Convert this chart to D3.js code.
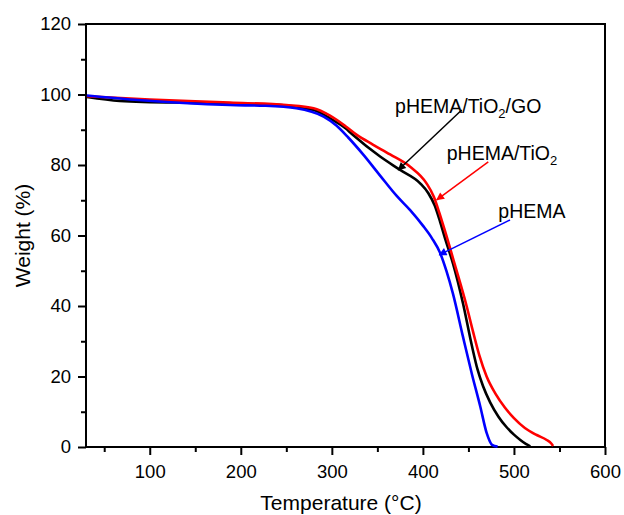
<!DOCTYPE html>
<meta charset="utf-8">
<style>
body { margin: 0; background: #fff; }
.axis text { font: 18.5px "Liberation Sans", Arial, sans-serif; fill: #000; }
.axis line { stroke: #000; stroke-width: 2px; }
.title { font: 21px "Liberation Sans", Arial, sans-serif; fill: #000; }
.note { font: 19.5px "Liberation Sans", Arial, sans-serif; fill: #000; }
</style>
<svg width="624" height="515"></svg>
<script src="https://d3js.org/d3.v7.min.js"></script>
<script>

// TGA curves (temperature in °C, weight in %)
var tempBlue = [31, 83, 188, 226, 261, 291, 305, 318, 335, 353, 371, 386, 400, 410, 419, 426, 433, 444, 454, 463, 470, 476, 482]
var wBlue    = [99.7, 98.5, 97.0, 96.8, 96.1, 93.7, 91.2, 87.8, 82.8, 77.0, 71.3, 67.2, 62.8, 59.2, 55.0, 49.8, 43.5, 31.3, 20.5, 11.5, 4.0, 0.6, 0.1]

var tempBlack = [31, 67, 150, 230, 280, 298, 315, 322, 353, 375, 397, 406, 413, 419, 425, 433, 444, 454, 460, 466, 474, 483, 492, 500, 507, 513, 518]
var wBlack    = [99.3, 98.2, 97.6, 97.2, 95.6, 93.2, 90.4, 88.8, 82.4, 78.6, 74.8, 72.0, 68.5, 63.8, 58.6, 52.1, 40.8, 28.5, 22.0, 17.3, 12.6, 8.6, 5.6, 3.5, 2.0, 0.9, 0.2]

var tempRed = [31, 100, 188, 250, 280, 298, 315, 327, 345, 364, 386, 404, 412, 418, 424, 435, 448, 455, 462, 470, 480, 490, 500, 512, 525, 536, 541, 543]
var wRed    = [99.5, 98.6, 97.7, 97.0, 96.1, 94.0, 91.0, 88.6, 85.8, 83.0, 79.5, 74.8, 71.0, 66.5, 61.5, 51.8, 40.0, 32.8, 26.0, 20.0, 15.0, 11.2, 8.2, 5.4, 3.4, 2.0, 1.0, 0.3]

var xMajor = [100, 200, 300, 400, 500, 600]
var xMinor = [50, 150, 250, 350, 450, 550]
var yMajor = [0, 20, 40, 60, 80, 100, 120]
var yMinor = [10, 30, 50, 70, 90, 110]

// labels: [text, sub, rest, textT, textW, arrowFromT, arrowFromW, arrowToT, arrowToW, colour]
var notes = [
	["pHEMA/TiO", "2", "/GO", 369.4, 94.7, 442.6, 95.6, 373, 78.6, "#000"],
	["pHEMA/TiO", "2", "", 426.2, 81.4, 471.8, 80.9, 415.2, 70.1, "#ff0000"],
	["pHEMA", "", "", 482.8, 64.9, 495.7, 64.4, 418, 54.5, "#0000ff"]
]

var margin = {top: 24, right: 19, bottom: 68, left: 86}
var width = 624 - margin.left - margin.right
var height = 515 - margin.top - margin.bottom

var svg = d3.select('svg')
var g = svg.append('g').attr('transform', 'translate(' + margin.left + ',' + margin.top + ')')

var x = d3.scaleLinear().domain([30, 600]).range([0, width])
var y = d3.scaleLinear().domain([0, 120]).range([height, 0])

// minor ticks first
g.append('g').attr('class', 'axis')
	.attr('transform', 'translate(0,' + height + ')')
	.call(d3.axisBottom(x).tickValues(xMinor).tickSize(5).tickSizeOuter(0).tickFormat(''))
g.append('g').attr('class', 'axis')
	.call(d3.axisLeft(y).tickValues(yMinor).tickSize(5).tickSizeOuter(0).tickFormat(''))

g.append('g').attr('class', 'axis')
	.attr('transform', 'translate(0,' + height + ')')
	.call(d3.axisBottom(x).tickValues(xMajor).tickSize(8).tickPadding(10).tickSizeOuter(0))
g.append('g').attr('class', 'axis')
	.call(d3.axisLeft(y).tickValues(yMajor).tickSize(8).tickPadding(7).tickSizeOuter(0))

g.selectAll('.axis .domain').remove()

// frame
g.append('rect')
	.attr('width', width).attr('height', height)
	.attr('fill', 'none').attr('stroke', '#000').attr('stroke-width', 2)

var line = d3.line()
	.x(function (d) { return x(d[0]) })
	.y(function (d) { return y(d[1]) })
	.curve(d3.curveMonotoneX)

var series = [
	[tempBlack, wBlack, '#000000'],
	[tempRed, wRed, '#ff0000'],
	[tempBlue, wBlue, '#0000ff']
]

series.forEach(function (s) {
	var pts = s[0].map(function (t, i) { return [t, s[1][i]] })
	g.append('path')
		.datum(pts)
		.attr('d', line)
		.attr('fill', 'none')
		.attr('stroke', s[2])
		.attr('stroke-width', 2.6)
})

// arrow markers
var defs = svg.append('defs')
notes.forEach(function (n, i) {
	defs.append('marker')
		.attr('id', 'arr' + i)
		.attr('viewBox', '0 0 10 10')
		.attr('refX', 9).attr('refY', 5)
		.attr('markerWidth', 10).attr('markerHeight', 8)
		.attr('markerUnits', 'userSpaceOnUse')
		.attr('orient', 'auto')
		.append('path')
		.attr('d', 'M0,0 L10,5 L0,10 z')
		.attr('fill', n[9])
})

notes.forEach(function (n, i) {
	g.append('line')
		.attr('x1', x(n[5])).attr('y1', y(n[6]))
		.attr('x2', x(n[7])).attr('y2', y(n[8]))
		.attr('stroke', n[9]).attr('stroke-width', 1.5)
		.attr('marker-end', 'url(#arr' + i + ')')
	var t = g.append('text').attr('class', 'note')
		.attr('x', x(n[3])).attr('y', y(n[4]))
	t.append('tspan').text(n[0])
	if (n[1]) {
		t.append('tspan').text(n[1]).attr('dy', 5).style('font-size', '13px')
	}
	if (n[2]) {
		t.append('tspan').text(n[2]).attr('dy', -5)
	}
})

// axis titles
svg.append('text').attr('class', 'title')
	.attr('x', 341).attr('y', 510)
	.attr('text-anchor', 'middle')
	.text('Temperature (°C)')

svg.append('text').attr('class', 'title')
	.attr('transform', 'translate(30,' + (margin.top + height / 2) + ') rotate(-90)')
	.attr('text-anchor', 'middle')
	.text('Weight (%)')

</script>
